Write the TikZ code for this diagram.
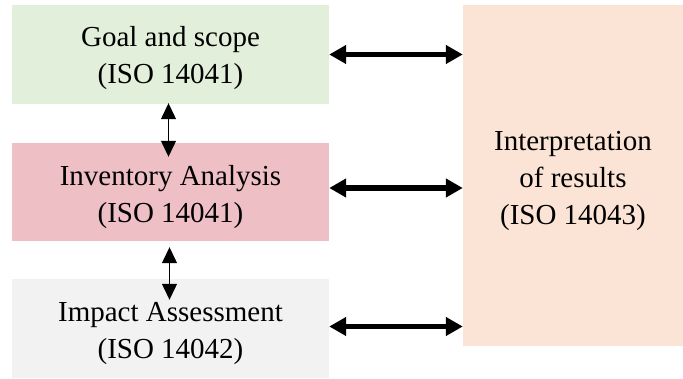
\documentclass[tikz,border=0pt]{standalone}
\usepackage{fontspec}
\setmainfont{Liberation Serif}
\usetikzlibrary{arrows.meta}
\definecolor{goalgreen}{RGB}{226,239,218}
\definecolor{invpink}{RGB}{239,191,198}
\definecolor{impgray}{RGB}{242,242,242}
\definecolor{intpeach}{RGB}{251,228,213}
\tikzset{
    phase/.style = {minimum width = 317pt, minimum height = 99pt, inner sep = 0pt},
    phasetext/.style = {inner sep = 0pt, align = center, font = \fontsize{29}{37}\selectfont},
    bigarrow/.style = {{Triangle[length=17pt, width=18pt]}-{Triangle[length=17pt, width=18pt]}, line width = 5.5pt},
    smallarrow/.style = {{Triangle[length=16pt, width=15pt]}-{Triangle[length=16pt, width=15pt]}, line width = 1.2pt}
}

\begin{document}
\begin{tikzpicture}[x=1pt, y=1pt]
        \useasboundingbox (0,0) rectangle (683,378);
        \node[phase, fill = goalgreen] (goal) at (170.5,323.5) {};
        \node[phase, fill = invpink, minimum height = 98pt] (inventory) at (170.5,186) {};
        \node[phase, fill = impgray] (impact) at (170.5,49.5) {};
        \node[phase, fill = intpeach, minimum width = 220pt, minimum height = 341pt] (interp) at (573,202.5) {};
        % texts sit a little below the box centres
        \node[phasetext] (goaltext) at ([yshift=-4pt]goal) {Goal and scope\\(ISO 14041)};
        \node[phasetext] (inventorytext) at ([yshift=-5pt]inventory) {Inventory Analysis\\(ISO 14041)};
        \node[phasetext] (impacttext) at ([yshift=-5pt]impact) {Impact Assessment\\(ISO 14042)};
        \node[phasetext] (interptext) at ([yshift=-5pt]interp) {Interpretation\\of results\\(ISO 14043)};
        \draw[bigarrow] (goal.east) -- (goal.east -| interp.west);
        \draw[bigarrow] ([yshift=4pt]inventory.east) -- ([yshift=4pt]inventory.east -| interp.west);
        \draw[bigarrow] ([yshift=2pt]impact.east) -- ([yshift=2pt]impact.east -| interp.west);
        \draw[smallarrow, shorten <= -1pt, shorten >= -14pt] ([xshift=-2pt]goal.south) -- ([xshift=-2pt]inventory.north);
        \draw[smallarrow, shorten <= 6pt, shorten >= -21pt] ([xshift=-1pt]inventory.south) -- ([xshift=-1pt]impact.north);
\end{tikzpicture}
\end{document}
